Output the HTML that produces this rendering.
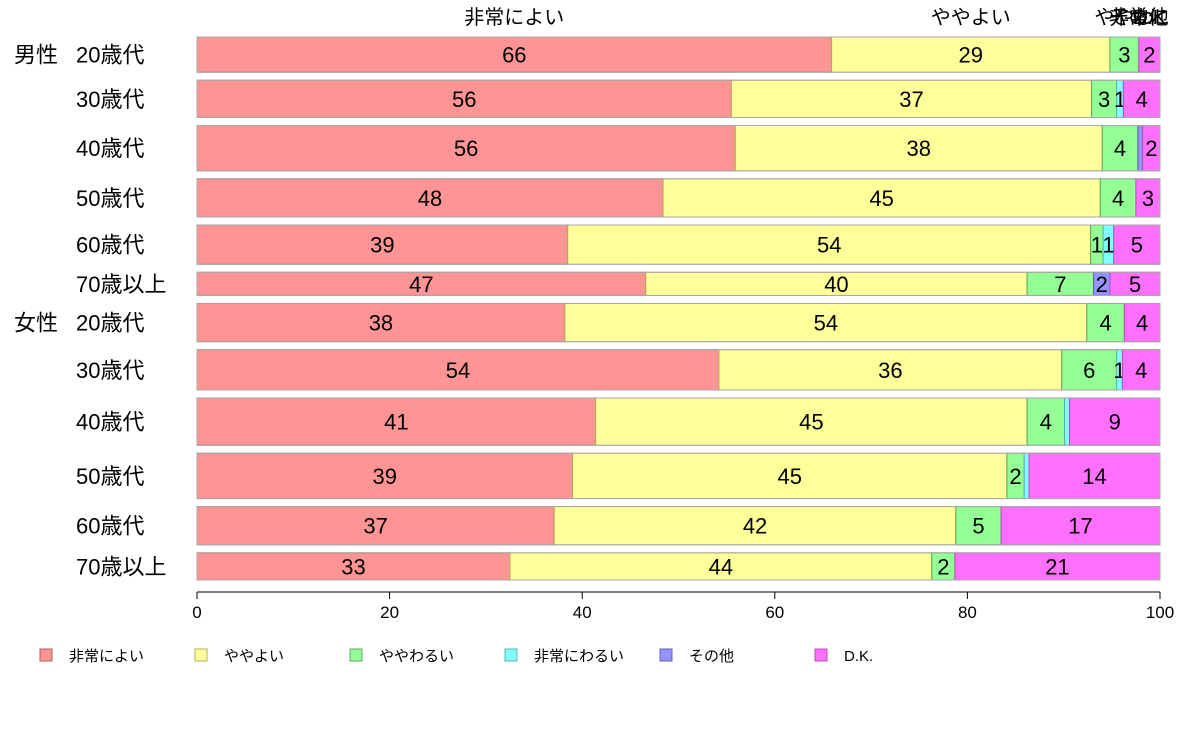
<!DOCTYPE html>
<html><head><meta charset="utf-8"><style>
body{margin:0;background:#fff}
svg{display:block;font-family:"Liberation Sans","Noto Sans CJK JP",sans-serif}
</style></head><body>
<svg id="chart" width="1188" height="736" viewBox="0 0 1188 736"></svg>
<script>
const categories=["20歳代","30歳代","40歳代","50歳代","60歳代","70歳以上","20歳代","30歳代","40歳代","50歳代","60歳代","70歳以上"];
const groups=["男性","","","","","","女性","","","","",""];
const seriesNames=["非常によい","ややよい","ややわるい","非常にわるい","その他","D.K."];
const s1=[65.9,55.5,55.9,48.4,38.5,46.6,38.2,54.2,41.4,39.0,37.1,32.5];
const s2=[28.9,37.4,38.1,45.4,54.3,39.6,54.2,35.6,44.8,45.1,41.7,43.8];
const s3=[3.0,2.6,3.7,3.7,1.3,6.9,3.9,5.7,3.9,1.8,4.7,2.4];
const s4=[0,0.7,0,0,1.1,0,0,0.6,0.5,0.5,0,0];
const s5=[0,0,0.5,0,0,1.7,0,0,0,0,0,0];
const s6=[2.2,3.8,1.8,2.5,4.8,5.2,3.7,3.9,9.4,13.6,16.5,21.3];
const rowWeights=[35,37,45,38,39,23,38,40,47,45,38,27];
const xTicks=[0,20,40,60,80,100];
const series=[s1,s2,s3,s4,s5,s6];
const colors=["#FF9494","#FFFF99","#94FF94","#80FFFF","#9494FF","#FF70FF"];
const strokes=["#B06060","#B0B060","#60A060","#60B0B0","#6060B0","#B050B0"];
const NS="http://www.w3.org/2000/svg";
const svg=document.getElementById('chart');
const x0=197,x1=1160,yTop=37,yBot=580,gap=8;
const xs=v=>x0+(x1-x0)*v/100;
const totalW=rowWeights.reduce((a,b)=>a+b,0);
const avail=(yBot-yTop)-gap*(categories.length-1);
function mk(t,a){const e=document.createElementNS(NS,t);for(const k in a)e.setAttribute(k,a[k]);svg.appendChild(e);return e;}
let y=yTop;
categories.forEach((c,i)=>{
  const h=avail*rowWeights[i]/totalW;
  let cum=0;
  const tot=series.reduce((a,s)=>a+s[i],0);
  series.forEach((s,j)=>{
    const v=s[i]*100/tot;
    if(v<=0)return;
    const r=mk('rect',{x:xs(cum),y:y,width:xs(cum+v)-xs(cum),height:h,fill:colors[j],stroke:strokes[j],'stroke-width':1});
    
    
    if(s[i]>=0.55){
      const t=mk('text',{x:(xs(cum)+xs(cum+v))/2,y:y+h/2+8,'text-anchor':'middle','font-size':22,fill:'#000'});
      t.textContent=Math.round(s[i]);
      
      
    }
    cum+=v;
  });
  mk('rect',{x:x0,y:y,width:x1-x0,height:h,fill:'none',stroke:'#aaa','stroke-width':1});
  const lt=mk('text',{x:76,y:y+h/2+8,'font-size':22,fill:'#000'});
  lt.textContent=c;
  
  
  if(groups[i]){
    const gt=mk('text',{x:14,y:y+h/2+8,'font-size':22,fill:'#000'});
    gt.textContent=groups[i];
    
    
  }
  if(i===0){
    let c2=0;
    series.forEach((s,j)=>{
      const v=s[0]*100/tot;
      const cx=(xs(c2)+xs(c2+Math.max(v,0)))/2;
      const t=mk('text',{x:cx,y:24,'text-anchor':'middle','font-size':20,fill:'#000'});
      t.textContent=j<2?seriesNames[j]:seriesNames[j].slice(0,3);
      
      
      c2+=v;
    });
  }
  y+=h+gap;
});
// axis
const ax=mk('line',{x1:x0,x2:x1,y1:592,y2:592,stroke:'#000'});


xTicks.forEach(t=>{
  const l=mk('line',{x1:xs(t),x2:xs(t),y1:592,y2:599,stroke:'#000'});
  
  
  const tx=mk('text',{x:xs(t),y:618,'text-anchor':'middle','font-size':17});
  tx.textContent=t;
  
  
});
// legend
seriesNames.forEach((n,j)=>{
  const lx=40+155*j;
  const b=mk('rect',{x:lx,y:649,width:12,height:12,fill:colors[j],stroke:strokes[j]});
  
  
  const t=mk('text',{x:lx+29,y:661,'font-size':15});
  t.textContent=n;
  
  
});
</script>
</body></html>
